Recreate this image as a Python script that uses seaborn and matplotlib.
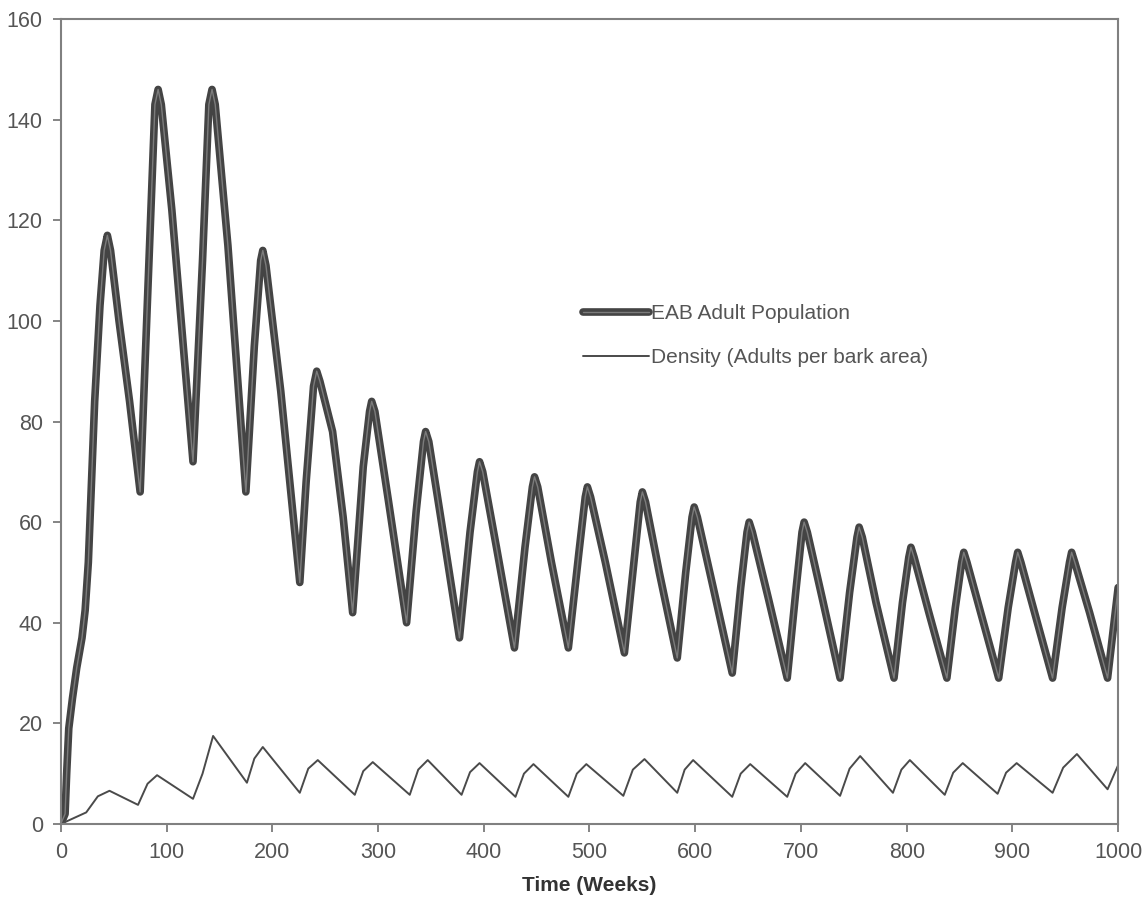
import matplotlib
matplotlib.use("Agg")
import matplotlib.pyplot as plt
import matplotlib.patheffects as pe
import seaborn as sns
import pandas as pd

# ---- data ----
eab_weeks = [0, 4, 5.5, 7.5, 11, 15, 20, 23, 26, 32, 37, 41, 44, 47, 55, 65, 75,
             83, 89, 92, 95, 105, 125, 134, 140, 143, 146, 158, 175, 183, 189, 191, 194,
             208, 226, 232, 239, 242, 245, 257, 267, 276, 286, 292, 294, 297, 310, 327,
             336, 343, 345, 348, 360, 377, 387, 394, 396, 399, 412, 429, 439, 446, 448,
             451, 464, 480, 490, 496, 498, 501, 515, 533, 542, 548, 550, 553, 566, 583,
             591, 597, 599, 602, 617, 635, 643, 649, 651, 654, 669, 687, 695, 701, 703,
             706, 720, 737, 746, 753, 755, 758, 771, 788, 796, 802, 804, 807, 821, 838,
             846, 852, 854, 857, 870, 887, 896, 903, 905, 908, 921, 938, 947, 954, 956,
             959, 973, 990, 1000]
eab_values = [0, 2, 10, 19, 25, 31, 37, 42.5, 52, 84, 103, 114, 117, 114, 100, 84, 66,
              110, 143, 146, 143, 122, 72, 112, 143, 146, 143, 115, 66, 95, 112, 114, 111,
              86, 48, 68, 87, 90, 88, 78, 61, 42, 71, 82, 84, 82, 64, 40,
              62, 76, 78, 76, 60, 37, 58, 70, 72, 70, 55, 35, 55, 67, 69,
              67, 52, 35, 54, 65, 67, 65, 52, 34, 52, 64, 66, 64, 50, 33,
              50, 61, 63, 61, 47, 30, 47, 58, 60, 58, 45, 29, 46, 58, 60,
              58, 45, 29, 46, 57, 59, 57, 44, 29, 44, 53, 55, 53, 42, 29,
              43, 52, 54, 52, 42, 29, 43, 52, 54, 52, 42, 29, 43, 52, 54,
              52, 42, 29, 47]

dens_weeks = [0, 24, 35, 46, 73, 82, 91, 125, 134, 144, 176, 183, 191, 226,
              234, 243, 278, 286, 295, 330, 338, 347, 379, 387, 396, 430,
              438, 447, 480, 488, 497, 532, 541, 552, 583, 590, 598, 635,
              643, 652, 687, 695, 704, 737, 746, 756, 787, 795, 803, 836,
              844, 853, 886, 894, 904, 938, 948, 961, 990, 1000]
dens_values = [0, 2.3, 5.5, 6.6, 3.8, 8.0, 9.7, 5.0, 10.0, 17.5, 8.2, 13.0, 15.3, 6.2,
               11.0, 12.7, 5.8, 10.5, 12.3, 5.8, 10.8, 12.7, 5.8, 10.3, 12.1, 5.4,
               10.0, 11.9, 5.4, 10.0, 11.9, 5.6, 10.8, 12.9, 6.2, 10.8, 12.7, 5.4,
               10.0, 11.9, 5.4, 10.0, 12.1, 5.6, 11.0, 13.5, 6.2, 10.8, 12.7, 5.8,
               10.2, 12.1, 6.0, 10.2, 12.1, 6.2, 11.2, 13.9, 6.9, 11.7]

x_ticks = [0, 100, 200, 300, 400, 500, 600, 700, 800, 900, 1000]
y_ticks = [0, 20, 40, 60, 80, 100, 120, 140, 160]

eab_label = "EAB Adult Population"
dens_label = "Density (Adults per bark area)"
x_title = "Time (Weeks)"

# ---- plot ----
sns.set_style("white")
plt.rcParams["font.family"] = ["Liberation Sans", "DejaVu Sans"]

fig = plt.figure(figsize=(11.48, 8.97), dpi=100)
ax = fig.add_axes([0.053, 0.0814, 0.921, 0.8974])

df_eab = pd.DataFrame({"week": eab_weeks, "value": eab_values})
df_den = pd.DataFrame({"week": dens_weeks, "value": dens_values})

sns.lineplot(data=df_eab, x="week", y="value", ax=ax, color="#444444",
             linewidth=5.5, label=eab_label, solid_joinstyle="round",
             solid_capstyle="round",
             path_effects=[pe.Normal(),
                           pe.Stroke(linewidth=1.0, foreground="#7c7c7c")])
sns.lineplot(data=df_den, x="week", y="value", ax=ax, color="#4a4a4a",
             linewidth=1.4, label=dens_label, solid_joinstyle="round")

ax.set_xlim(0, 1000)
ax.set_ylim(0, 160)
ax.set_xticks(x_ticks)
ax.set_yticks(y_ticks)
ax.set_xlabel(x_title, fontsize=15, fontweight="bold", color="#333333", labelpad=9)
ax.set_ylabel("")
ax.tick_params(axis="both", which="major", length=6, width=1.2, color="#707070",
               labelsize=15.5, labelcolor="#555555", direction="out",
               bottom=True, left=True, pad=7)
for s in ax.spines.values():
    s.set_color("#808080")
    s.set_linewidth(1.5)

leg = ax.legend(loc="upper left", bbox_to_anchor=(0.4855, 0.656), frameon=False,
                fontsize=15, handlelength=3.2, handletextpad=0.1,
                labelspacing=1.2, borderaxespad=0)
for t in leg.get_texts():
    t.set_color("#555555")

fig.savefig("out.png", dpi=100)
